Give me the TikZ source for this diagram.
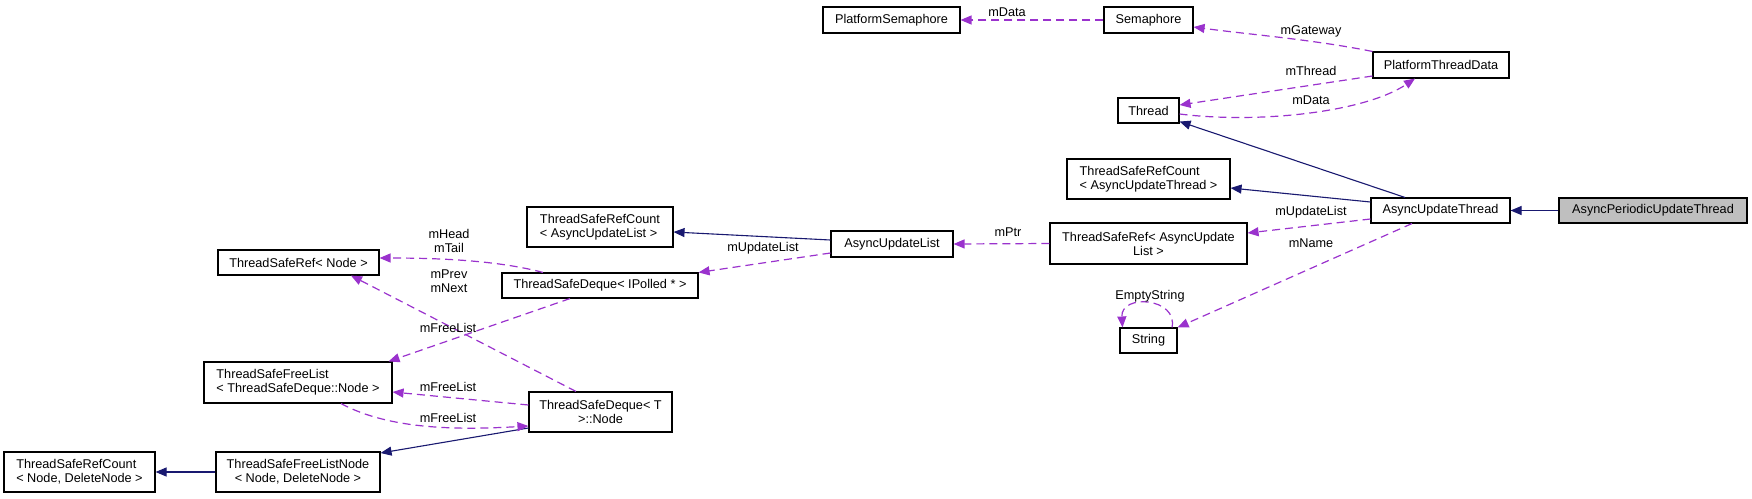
\documentclass[tikz,border=0pt]{standalone}
\usepackage{fontspec}
\setmainfont{Liberation Sans}
\usetikzlibrary{arrows.meta}
\definecolor{navyedge}{HTML}{191970}
\definecolor{purpedge}{HTML}{9A32CD}
\definecolor{selfill}{HTML}{BFBFBF}
\begin{document}
\begin{tikzpicture}[x=1pt,y=-1pt,
  cls/.style={draw=black, line width=1.1pt, fill=white, inner sep=0pt, font=\fontsize{12.7}{14}\selectfont},
  inh/.style={navyedge, line width=1.1pt, -{Triangle[length=11pt,width=9pt]}},
  dep/.style={purpedge, line width=1.2pt, dash pattern=on 8pt off 5pt, -{Triangle[length=11pt,width=9pt]}},
  lbl/.style={font=\fontsize{12.7}{14}\selectfont, inner sep=0pt, align=center, text=black}]
\useasboundingbox (0,0) rectangle (1752,498);

% classes
\node[cls, minimum width=137pt, minimum height=26pt] (ps) at (891.5,20) {PlatformSemaphore};
\node[cls, minimum width=89pt, minimum height=26pt] (sem) at (1148.5,20) {Semaphore};
\node[cls, minimum width=136pt, minimum height=26pt] (ptd) at (1441,65) {PlatformThreadData};
\node[cls, minimum width=61pt, minimum height=25pt] (thr) at (1148.5,110.5) {Thread};
\node[cls, minimum width=163pt, minimum height=40pt, align=left] (trcAUT) at (1148.5,179) {ThreadSafeRefCount\\< AsyncUpdateThread >};
\node[cls, minimum width=139pt, minimum height=25pt] (aut) at (1440.5,210.5) {AsyncUpdateThread};
\node[cls, fill=selfill, minimum width=188pt, minimum height=25pt] (apu) at (1653,210.5) {AsyncPeriodicUpdateThread};
\node[cls, minimum width=197pt, minimum height=41pt, align=center] (trAUL) at (1148.5,243.5) {ThreadSafeRef< AsyncUpdate\\List >};
\node[cls, minimum width=57pt, minimum height=25pt] (str) at (1148.5,340.5) {String};
\node[cls, minimum width=122pt, minimum height=26pt] (aul) at (892,244) {AsyncUpdateList};
\node[cls, minimum width=146pt, minimum height=40pt, align=left] (trcAUL) at (600,227) {ThreadSafeRefCount\\< AsyncUpdateList >};
\node[cls, minimum width=196pt, minimum height=25pt] (tdIP) at (600,285.5) {ThreadSafeDeque< IPolled * >};
\node[cls, minimum width=161pt, minimum height=25pt] (trNode) at (298.5,262.5) {ThreadSafeRef< Node >};
\node[cls, minimum width=188pt, minimum height=41pt, align=left] (tfl) at (298,382.5) {ThreadSafeFreeList\\< ThreadSafeDeque::Node >};
\node[cls, minimum width=143pt, minimum height=40pt, align=center] (tdNode) at (600.5,412) {ThreadSafeDeque< T\\>::Node};
\node[cls, minimum width=164pt, minimum height=40pt, align=center] (tfln) at (298,472) {ThreadSafeFreeListNode\\< Node, DeleteNode >};
\node[cls, minimum width=151pt, minimum height=40pt, align=left] (trcNode) at (79.5,472) {ThreadSafeRefCount\\< Node, DeleteNode >};

% inheritance
\draw[inh] (apu.west) -- (aut.east);
\draw[inh] ([shift={(-35.5,0)}]aut.north) -- ([shift={(0,-2)}]thr.south east);
\draw[inh] ([shift={(0,-8.5)}]aut.west) -- ([shift={(0,9)}]trcAUT.east);
\draw[inh] ([shift={(0,-4)}]aul.west) -- ([shift={(0,5)}]trcAUL.east);
\draw[inh] ([shift={(0,16)}]tdNode.west) -- ([shift={(0,-19)}]tfln.east);
\draw[inh] (tfln.west) -- (trcNode.east);

% usage
\draw[dep] (sem.west) -- (ps.east) node[lbl] at (1007,12) {mData};
\draw[dep] (ptd.north west) .. controls +(-60,-12) and +(60,8) .. ([shift={(0,7)}]sem.east) node[lbl] at (1311,31) {mGateway};
\draw[dep] ([shift={(0,11)}]ptd.west) -- ([shift={(0,-5.5)}]thr.east) node[lbl] at (1311,71) {mThread};
\draw[dep] ([shift={(0,3.5)}]thr.east) .. controls (1260,124) and (1365,112) .. ([shift={(-26,0)}]ptd.south) node[lbl] at (1311,100) {mData};
\draw[dep] ([shift={(0,8.5)}]aut.west) -- ([shift={(0,-10.5)}]trAUL.east) node[lbl] at (1311,212) {mUpdateList};
\draw[dep] ([shift={(-28.5,0)}]aut.south) -- (str.north east) node[lbl] at (1311,243) {mName};
\draw[dep] ([shift={(23.5,0)}]str.north) .. controls +(6,-30) and +(-2,-34) .. ([shift={(-26,0)}]str.north) node[lbl] at (1150,296) {EmptyString};
\draw[dep] (trAUL.west) -- (aul.east) node[lbl] at (1008,232) {mPtr};
\draw[dep] ([shift={(0,9)}]aul.west) -- (tdIP.north east) node[lbl] at (763,248) {mUpdateList};
\draw[dep] ([shift={(-57,0)}]tdIP.north) .. controls +(-45,-12) and +(60,0) .. ([shift={(0,-4.5)}]trNode.east) node[lbl] at (449,241) {mHead\\mTail};
\draw[dep] ([shift={(-24.5,0)}]tdNode.north) -- ([shift={(52.5,0)}]trNode.south) node[lbl] at (449,281) {mPrev\\mNext};
\draw[dep] ([shift={(-30,0)}]tdIP.south) -- ([shift={(-4,0)}]tfl.north east) node[lbl] at (448,328) {mFreeList};
\draw[dep] ([shift={(0,-7)}]tdNode.west) -- ([shift={(0,9.5)}]tfl.east) node[lbl] at (448,387) {mFreeList};
\draw[dep] ([shift={(43,0)}]tfl.south) .. controls (390,430) and (460,430) .. ([shift={(0,14)}]tdNode.west) node[lbl] at (448,418) {mFreeList};
\end{tikzpicture}
\end{document}
